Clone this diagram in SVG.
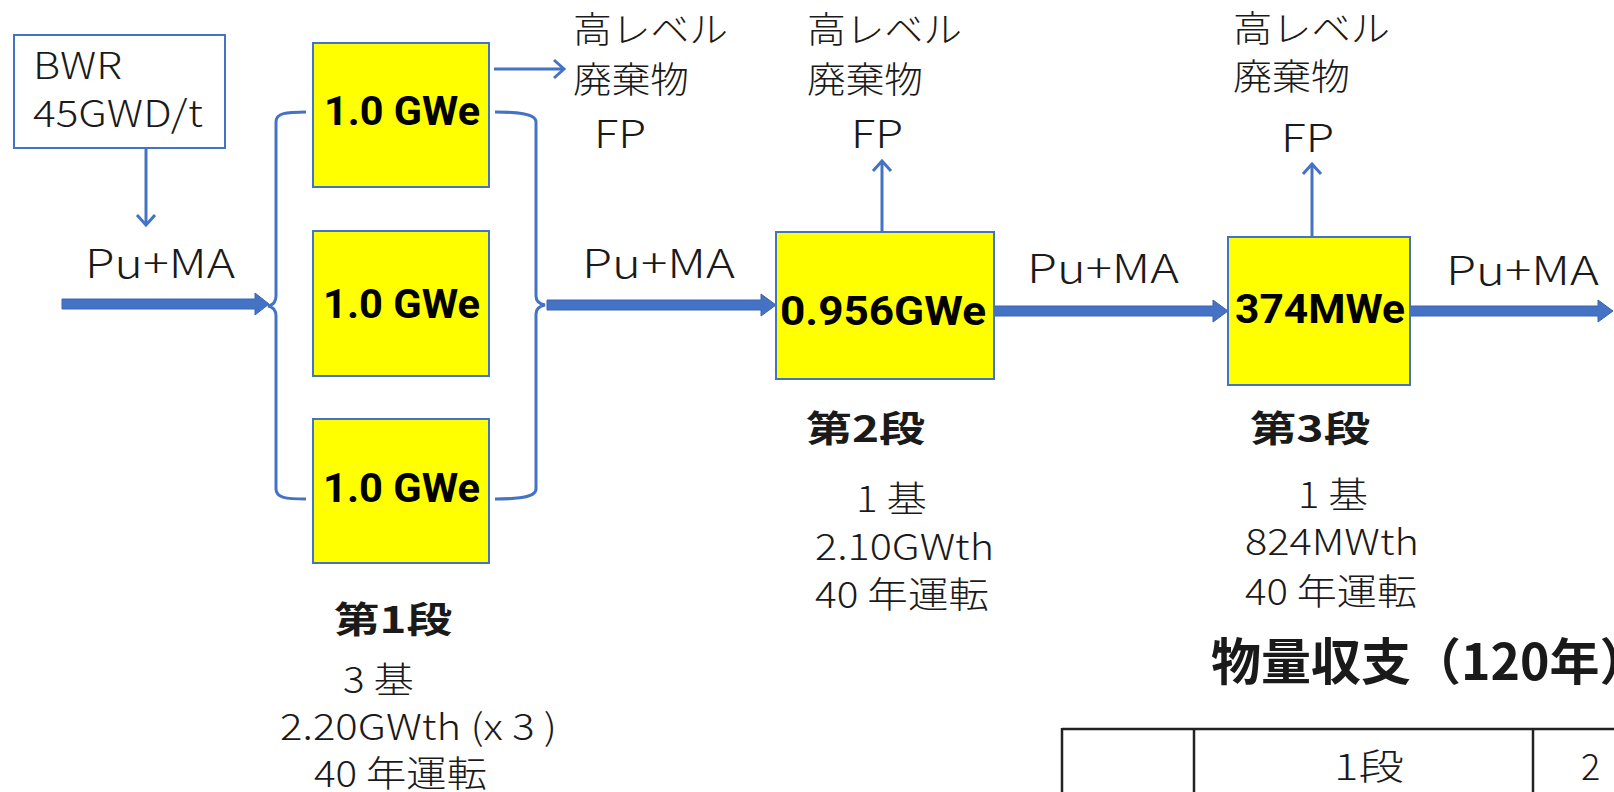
<svg xmlns="http://www.w3.org/2000/svg" width="1614" height="792" viewBox="0 0 1614 792">
<style>
  .lt { font-family: "Noto Sans CJK JP Light", "Noto Sans CJK JP DemiLight", "Noto Sans CJK JP", "Noto Sans", sans-serif; font-weight: 300; fill: #1a1a1a; }
  .bd { font-family: "Noto Sans CJK JP", "Noto Sans", sans-serif; font-weight: 700; fill: #1a1a1a; }
  .gw { font-family: Roboto, "Liberation Sans", sans-serif; font-weight: 700; fill: #000; }
  .box { fill: #FFFF00; stroke: #4472C4; stroke-width: 2; }
  .src { fill: #FFFFFF; stroke: #4472C4; stroke-width: 2; }
  .thin { fill: none; stroke: #4472C4; stroke-width: 3; }
  .thick { fill: #4472C4; stroke: #3A64B0; stroke-width: 1; }
  .tbl { fill: none; stroke: #222; stroke-width: 2.5; }
</style>
<defs>
  <marker id="chev" markerUnits="userSpaceOnUse" markerWidth="24" markerHeight="24" viewBox="-12 -12 24 24" refX="0" refY="0" orient="auto">
    <path d="M-10,-9 L0,0 L-10,9" fill="none" stroke="#4472C4" stroke-width="3" stroke-linejoin="miter"/>
  </marker>
</defs>
<rect width="1614" height="792" fill="#FFFFFF"/>

<g id="connectors">
  <line class="thin" x1="146" y1="148" x2="146" y2="225" marker-end="url(#chev)"/>
  <line class="thin" x1="494" y1="69" x2="564" y2="69" marker-end="url(#chev)"/>
  <line class="thin" x1="882" y1="232" x2="882" y2="161" marker-end="url(#chev)"/>
  <line class="thin" x1="1312" y1="237" x2="1312" y2="164" marker-end="url(#chev)"/>
  <path class="thin" d="M306,112 C286,112 276,113 276,122 L276,296 C276,302 273,305 268,306 C273,307 276,310 276,316 L276,489 C276,498 286,499 306,499"/>
  <path class="thin" d="M495,112 C515,112 536,113 536,122 L536,296 C536,301 540,304 545,305 C540,306 536,309 536,314 L536,489 C536,498 515,499 495,499"/>
  <path class="thick" d="M62,299 L255,299 L255,293 L269,304 L255,315 L255,309 L62,309 Z"/>
  <path class="thick" d="M547,300 L761,300 L761,294 L776,305 L761,316 L761,310 L547,310 Z"/>
  <path class="thick" d="M994,306 L1213,306 L1213,300 L1228,311 L1213,322 L1213,316 L994,316 Z"/>
  <path class="thick" d="M1410,306 L1598,306 L1598,300 L1613,311 L1598,322 L1598,316 L1410,316 Z"/>
</g>

<g id="bwr">
  <rect class="src" x="14" y="35" width="211" height="113"/>
  <text class="lt" x="33" y="79" font-size="37" textLength="89" lengthAdjust="spacingAndGlyphs">BWR</text>
  <text class="lt" x="33" y="127" font-size="37" textLength="170" lengthAdjust="spacingAndGlyphs">45GWD/t</text>
</g>

<g id="label-pu-ma-1"><text class="lt" x="85" y="278" font-size="40" textLength="150" lengthAdjust="spacingAndGlyphs">Pu+MA</text></g>

<g id="reactor-1a">
  <rect class="box" x="313" y="43" width="176" height="144"/>
  <text class="gw" x="324" y="125" font-size="41" textLength="156" lengthAdjust="spacingAndGlyphs">1.0 GWe</text>
</g>
<g id="reactor-1b">
  <rect class="box" x="313" y="231" width="176" height="145"/>
  <text class="gw" x="323" y="318" font-size="41" textLength="157" lengthAdjust="spacingAndGlyphs">1.0 GWe</text>
</g>
<g id="reactor-1c">
  <rect class="box" x="313" y="419" width="176" height="144"/>
  <text class="gw" x="323" y="502" font-size="41" textLength="157" lengthAdjust="spacingAndGlyphs">1.0 GWe</text>
</g>

<g id="waste-1">
  <text class="lt" x="573" y="43" font-size="36" textLength="155" lengthAdjust="spacingAndGlyphs">高レベル</text>
  <text class="lt" x="573" y="93" font-size="36" textLength="116" lengthAdjust="spacingAndGlyphs">廃棄物</text>
  <text class="lt" x="594" y="148" font-size="38" textLength="52" lengthAdjust="spacingAndGlyphs">FP</text>
</g>

<g id="label-pu-ma-2"><text class="lt" x="582" y="278" font-size="40" textLength="153" lengthAdjust="spacingAndGlyphs">Pu+MA</text></g>

<g id="reactor-2">
  <rect class="box" x="776" y="232" width="218" height="147"/>
  <text class="gw" x="780" y="325" font-size="41" textLength="206" lengthAdjust="spacingAndGlyphs">0.956GWe</text>
</g>

<g id="waste-2">
  <text class="lt" x="807" y="43" font-size="36" textLength="155" lengthAdjust="spacingAndGlyphs">高レベル</text>
  <text class="lt" x="807" y="93" font-size="36" textLength="116" lengthAdjust="spacingAndGlyphs">廃棄物</text>
  <text class="lt" x="851" y="148" font-size="38" textLength="52" lengthAdjust="spacingAndGlyphs">FP</text>
</g>

<g id="label-pu-ma-3"><text class="lt" x="1027" y="283" font-size="40" textLength="152" lengthAdjust="spacingAndGlyphs">Pu+MA</text></g>

<g id="reactor-3">
  <rect class="box" x="1228" y="237" width="182" height="148"/>
  <text class="gw" x="1235" y="323" font-size="41" textLength="170" lengthAdjust="spacingAndGlyphs">374MWe</text>
</g>

<g id="waste-3">
  <text class="lt" x="1233" y="42" font-size="36" textLength="157" lengthAdjust="spacingAndGlyphs">高レベル</text>
  <text class="lt" x="1233" y="90" font-size="36" textLength="117" lengthAdjust="spacingAndGlyphs">廃棄物</text>
  <text class="lt" x="1281" y="152" font-size="38" textLength="53" lengthAdjust="spacingAndGlyphs">FP</text>
</g>

<g id="label-pu-ma-4"><text class="lt" x="1446" y="285" font-size="40" textLength="153" lengthAdjust="spacingAndGlyphs">Pu+MA</text></g>

<g id="stage-1">
  <text class="bd" x="334" y="633" font-size="36" textLength="118" lengthAdjust="spacingAndGlyphs">第1段</text>
  <text class="lt" x="343" y="693" font-size="36" textLength="71" lengthAdjust="spacingAndGlyphs">3 基</text>
  <text class="lt" x="280" y="740" font-size="36" textLength="277" lengthAdjust="spacingAndGlyphs">2.20GWth (x 3 )</text>
  <text class="lt" x="314" y="787" font-size="36" textLength="173" lengthAdjust="spacingAndGlyphs">40 年運転</text>
</g>

<g id="stage-2">
  <text class="bd" x="806" y="442" font-size="36" textLength="119" lengthAdjust="spacingAndGlyphs">第2段</text>
  <text class="lt" x="856" y="512" font-size="36" textLength="71" lengthAdjust="spacingAndGlyphs">1 基</text>
  <text class="lt" x="815" y="560" font-size="36" textLength="179" lengthAdjust="spacingAndGlyphs">2.10GWth</text>
  <text class="lt" x="815" y="608" font-size="36" textLength="174" lengthAdjust="spacingAndGlyphs">40 年運転</text>
</g>

<g id="stage-3">
  <text class="bd" x="1250" y="442" font-size="36" textLength="120" lengthAdjust="spacingAndGlyphs">第3段</text>
  <text class="lt" x="1298" y="508" font-size="36" textLength="70" lengthAdjust="spacingAndGlyphs">1 基</text>
  <text class="lt" x="1245" y="555" font-size="36" textLength="174" lengthAdjust="spacingAndGlyphs">824MWth</text>
  <text class="lt" x="1245" y="605" font-size="36" textLength="172" lengthAdjust="spacingAndGlyphs">40 年運転</text>
</g>

<g id="balance-title">
  <text class="bd" x="1211" y="680" font-size="50">物量収支（120年）</text>
</g>

<g id="balance-table">
  <line class="tbl" x1="1062" y1="729" x2="1614" y2="729"/>
  <line class="tbl" x1="1062" y1="728" x2="1062" y2="792"/>
  <line class="tbl" x1="1194" y1="728" x2="1194" y2="792"/>
  <line class="tbl" x1="1533" y1="728" x2="1533" y2="792"/>
  <text class="lt" x="1334" y="780" font-size="36" font-weight="500" textLength="70" lengthAdjust="spacingAndGlyphs">1段</text>
  <text class="lt" x="1581" y="780" font-size="36" font-weight="500">2</text>
</g>
</svg>
